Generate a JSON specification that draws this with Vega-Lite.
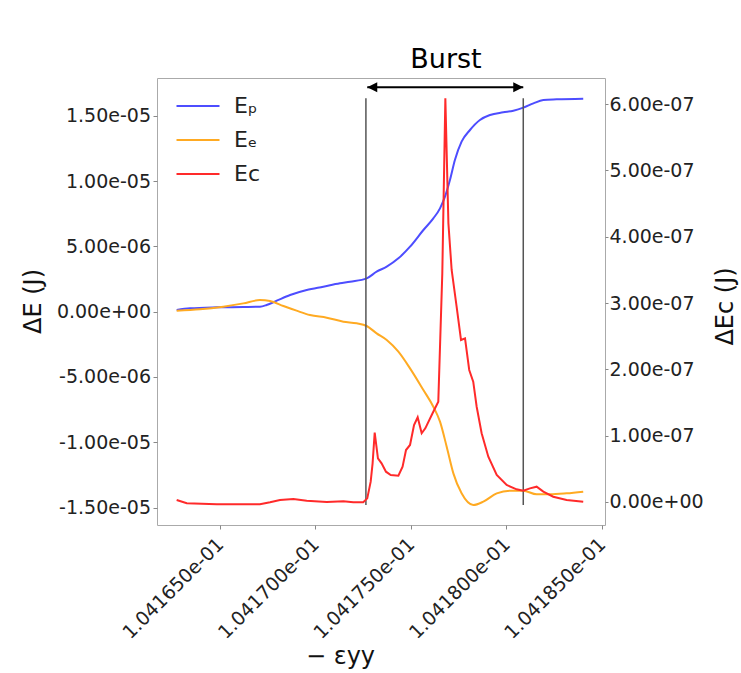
{
  "$schema": "https://vega.github.io/schema/vega-lite/v6.json",
  "width": 448,
  "height": 447,
  "autosize": {"type": "none"},
  "padding": {"left": 157, "top": 78, "right": 136, "bottom": 148},
  "background": "white",
  "config": {
    "view": {"stroke": "#aaaaaa", "strokeWidth": 1},
    "font": "DejaVu Sans",
    "axis": {
      "grid": false,
      "domain": false,
      "labelFont": "DejaVu Sans",
      "titleFont": "DejaVu Sans",
      "labelColor": "#222222",
      "titleColor": "#111111",
      "tickColor": "#888888",
      "labelFlush": false,
      "labelOverlap": false,
      "titleFontWeight": "normal",
      "labelFontSize": 19,
      "titleFontSize": 24
    }
  },
  "datasets": {
    "energy": [
      {"x": 0.10416273, "value": 1.30e-7, "series": "Eₚ"},
      {"x": 0.10416343, "value": 2.57e-7, "series": "Eₚ"},
      {"x": 0.10416483, "value": 3.34e-7, "series": "Eₚ"},
      {"x": 0.10416622, "value": 3.59e-7, "series": "Eₚ"},
      {"x": 0.10416709, "value": 3.85e-7, "series": "Eₚ"},
      {"x": 0.10416744, "value": 5.13e-7, "series": "Eₚ"},
      {"x": 0.10416797, "value": 8.45e-7, "series": "Eₚ"},
      {"x": 0.10416867, "value": 1.279e-6, "series": "Eₚ"},
      {"x": 0.10416954, "value": 1.662e-6, "series": "Eₚ"},
      {"x": 0.10417041, "value": 1.917e-6, "series": "Eₚ"},
      {"x": 0.10417128, "value": 2.173e-6, "series": "Eₚ"},
      {"x": 0.10417181, "value": 2.300e-6, "series": "Eₚ"},
      {"x": 0.10417268, "value": 2.556e-6, "series": "Eₚ"},
      {"x": 0.10417320, "value": 3.066e-6, "series": "Eₚ"},
      {"x": 0.10417373, "value": 3.449e-6, "series": "Eₚ"},
      {"x": 0.10417434, "value": 4.087e-6, "series": "Eₚ"},
      {"x": 0.10417495, "value": 4.981e-6, "series": "Eₚ"},
      {"x": 0.10417565, "value": 6.258e-6, "series": "Eₚ"},
      {"x": 0.10417617, "value": 7.150e-6, "series": "Eₚ"},
      {"x": 0.10417652, "value": 7.918e-6, "series": "Eₚ"},
      {"x": 0.10417678, "value": 8.812e-6, "series": "Eₚ"},
      {"x": 0.10417704, "value": 1.0088e-5, "series": "Eₚ"},
      {"x": 0.10417730, "value": 1.1621e-5, "series": "Eₚ"},
      {"x": 0.10417765, "value": 1.3025e-5, "series": "Eₚ"},
      {"x": 0.10417809, "value": 1.3919e-5, "series": "Eₚ"},
      {"x": 0.10417861, "value": 1.4685e-5, "series": "Eₚ"},
      {"x": 0.10417914, "value": 1.5068e-5, "series": "Eₚ"},
      {"x": 0.10417983, "value": 1.5272e-5, "series": "Eₚ"},
      {"x": 0.10418036, "value": 1.5400e-5, "series": "Eₚ"},
      {"x": 0.10418088, "value": 1.5630e-5, "series": "Eₚ"},
      {"x": 0.10418141, "value": 1.5962e-5, "series": "Eₚ"},
      {"x": 0.10418193, "value": 1.6217e-5, "series": "Eₚ"},
      {"x": 0.10418263, "value": 1.6268e-5, "series": "Eₚ"},
      {"x": 0.10418402, "value": 1.6319e-5, "series": "Eₚ"},
      {"x": 0.10416273, "value": 7.9e-8, "series": "Eₑ"},
      {"x": 0.10416395, "value": 1.81e-7, "series": "Eₑ"},
      {"x": 0.10416517, "value": 3.85e-7, "series": "Eₑ"},
      {"x": 0.10416622, "value": 6.39e-7, "series": "Eₑ"},
      {"x": 0.10416709, "value": 8.96e-7, "series": "Eₑ"},
      {"x": 0.10416762, "value": 8.19e-7, "series": "Eₑ"},
      {"x": 0.10416832, "value": 4.36e-7, "series": "Eₑ"},
      {"x": 0.10416901, "value": 7.9e-8, "series": "Eₑ"},
      {"x": 0.10416971, "value": -2.53e-7, "series": "Eₑ"},
      {"x": 0.10417059, "value": -4.57e-7, "series": "Eₑ"},
      {"x": 0.10417146, "value": -7.64e-7, "series": "Eₑ"},
      {"x": 0.10417216, "value": -8.92e-7, "series": "Eₑ"},
      {"x": 0.10417268, "value": -1.096e-6, "series": "Eₑ"},
      {"x": 0.10417320, "value": -1.658e-6, "series": "Eₑ"},
      {"x": 0.10417373, "value": -2.168e-6, "series": "Eₑ"},
      {"x": 0.10417434, "value": -3.062e-6, "series": "Eₑ"},
      {"x": 0.10417495, "value": -4.339e-6, "series": "Eₑ"},
      {"x": 0.10417565, "value": -5.999e-6, "series": "Eₑ"},
      {"x": 0.10417617, "value": -7.276e-6, "series": "Eₑ"},
      {"x": 0.10417652, "value": -8.425e-6, "series": "Eₑ"},
      {"x": 0.10417687, "value": -1.0340e-5, "series": "Eₑ"},
      {"x": 0.10417722, "value": -1.2383e-5, "series": "Eₑ"},
      {"x": 0.10417765, "value": -1.3915e-5, "series": "Eₑ"},
      {"x": 0.10417826, "value": -1.4809e-5, "series": "Eₑ"},
      {"x": 0.10417879, "value": -1.4552e-5, "series": "Eₑ"},
      {"x": 0.10417949, "value": -1.3915e-5, "series": "Eₑ"},
      {"x": 0.10418018, "value": -1.3710e-5, "series": "Eₑ"},
      {"x": 0.10418088, "value": -1.3710e-5, "series": "Eₑ"},
      {"x": 0.10418158, "value": -1.3991e-5, "series": "Eₑ"},
      {"x": 0.10418228, "value": -1.3991e-5, "series": "Eₑ"},
      {"x": 0.10418315, "value": -1.3915e-5, "series": "Eₑ"},
      {"x": 0.10418402, "value": -1.3787e-5, "series": "Eₑ"}
    ],
    "kinetic": [
      {"x": 0.10416273, "value": 3.0e-9, "series": "Ec"},
      {"x": 0.10416326, "value": -2.0e-9, "series": "Ec"},
      {"x": 0.10416483, "value": -3.5e-9, "series": "Ec"},
      {"x": 0.10416709, "value": -3.5e-9, "series": "Ec"},
      {"x": 0.10416762, "value": -5e-10, "series": "Ec"},
      {"x": 0.10416814, "value": 3.0e-9, "series": "Ec"},
      {"x": 0.10416884, "value": 4.5e-9, "series": "Ec"},
      {"x": 0.10416954, "value": 2.0e-9, "series": "Ec"},
      {"x": 0.10417059, "value": 0, "series": "Ec"},
      {"x": 0.10417146, "value": 1.0e-9, "series": "Ec"},
      {"x": 0.10417198, "value": -5e-10, "series": "Ec"},
      {"x": 0.10417250, "value": -5e-10, "series": "Ec"},
      {"x": 0.10417271, "value": 5.5e-9, "series": "Ec"},
      {"x": 0.10417289, "value": 3.07e-8, "series": "Ec"},
      {"x": 0.10417299, "value": 5.83e-8, "series": "Ec"},
      {"x": 0.10417310, "value": 1.046e-7, "series": "Ec"},
      {"x": 0.10417327, "value": 6.59e-8, "series": "Ec"},
      {"x": 0.10417346, "value": 5.83e-8, "series": "Ec"},
      {"x": 0.10417369, "value": 4.57e-8, "series": "Ec"},
      {"x": 0.10417394, "value": 4.07e-8, "series": "Ec"},
      {"x": 0.10417434, "value": 3.97e-8, "series": "Ec"},
      {"x": 0.10417456, "value": 5.33e-8, "series": "Ec"},
      {"x": 0.10417474, "value": 7.84e-8, "series": "Ec"},
      {"x": 0.10417495, "value": 8.60e-8, "series": "Ec"},
      {"x": 0.10417516, "value": 1.161e-7, "series": "Ec"},
      {"x": 0.10417535, "value": 1.277e-7, "series": "Ec"},
      {"x": 0.10417556, "value": 1.036e-7, "series": "Ec"},
      {"x": 0.10417575, "value": 1.111e-7, "series": "Ec"},
      {"x": 0.10417613, "value": 1.338e-7, "series": "Ec"},
      {"x": 0.10417643, "value": 1.513e-7, "series": "Ec"},
      {"x": 0.10417664, "value": 3.449e-7, "series": "Ec"},
      {"x": 0.10417680, "value": 6.088e-7, "series": "Ec"},
      {"x": 0.10417696, "value": 4.203e-7, "series": "Ec"},
      {"x": 0.10417713, "value": 3.499e-7, "series": "Ec"},
      {"x": 0.10417739, "value": 2.946e-7, "series": "Ec"},
      {"x": 0.10417762, "value": 2.443e-7, "series": "Ec"},
      {"x": 0.10417783, "value": 2.468e-7, "series": "Ec"},
      {"x": 0.10417805, "value": 1.991e-7, "series": "Ec"},
      {"x": 0.10417826, "value": 1.815e-7, "series": "Ec"},
      {"x": 0.10417844, "value": 1.437e-7, "series": "Ec"},
      {"x": 0.10417870, "value": 1.036e-7, "series": "Ec"},
      {"x": 0.10417905, "value": 6.83e-8, "series": "Ec"},
      {"x": 0.10417949, "value": 4.07e-8, "series": "Ec"},
      {"x": 0.10418001, "value": 2.56e-8, "series": "Ec"},
      {"x": 0.10418053, "value": 1.91e-8, "series": "Ec"},
      {"x": 0.10418088, "value": 1.71e-8, "series": "Ec"},
      {"x": 0.10418123, "value": 2.06e-8, "series": "Ec"},
      {"x": 0.10418158, "value": 2.31e-8, "series": "Ec"},
      {"x": 0.10418193, "value": 1.56e-8, "series": "Ec"},
      {"x": 0.10418245, "value": 8.0e-9, "series": "Ec"},
      {"x": 0.10418315, "value": 3.0e-9, "series": "Ec"},
      {"x": 0.10418402, "value": 5e-10, "series": "Ec"}
    ],
    "burst": [
      {"x": 0.10417264, "y": -1.481e-5, "y2": 1.635e-5},
      {"x": 0.10418088, "y": -1.481e-5, "y2": 1.635e-5}
    ],
    "arrow": [
      {"x": 0.10417271, "x2": 0.10418088, "y": 1.719e-5}
    ],
    "heads": [
      {"x": 0.10417271, "y": 1.719e-5, "dir": "left"},
      {"x": 0.10418088, "y": 1.719e-5, "dir": "right"}
    ],
    "label": [
      {"x": 0.10417683, "y": 1.867e-5, "text": "Burst"}
    ]
  },
  "layer": [
    {
      "layer": [
        {
          "data": {"name": "energy"},
          "mark": {"type": "line", "strokeWidth": 2, "interpolate": "monotone"},
          "encoding": {
            "x": {
              "field": "x",
              "type": "quantitative",
              "scale": {"domain": [0.1041617, 0.10418516], "nice": false, "zero": false},
              "axis": {
                "values": [0.104165, 0.10417, 0.104175, 0.10418, 0.104185],
                "format": ".6e",
                "labelExpr": "replace(datum.label, 'e-', 'e-0')",
                "labelAngle": -45,
                "labelAlign": "right",
                "labelBaseline": "middle",
                "tickSize": 4,
                "labelPadding": 12,
                "title": "− εyy",
                "titleX": 183,
                "titleY": 138,
                "titleBaseline": "alphabetic",
                "titleAlign": "center"
              }
            },
            "y": {
              "field": "value",
              "type": "quantitative",
              "scale": {"domain": [-1.634e-5, 1.7903e-5], "nice": false, "zero": false},
              "axis": {
                "values": [-1.5e-5, -1e-5, -5e-6, 0, 5e-6, 1e-5, 1.5e-5],
                "format": ".2e",
                "labelExpr": "replace(replace(replace(datum.label, '−', '-'), 'e-', 'e-0'), 'e+', 'e+0')",
                "tickSize": 4,
                "labelPadding": 2.5,
                "title": "ΔE (J)",
                "titleX": -124,
                "titleY": 223,
                "titleAngle": -90,
                "titleBaseline": "middle",
                "titleAlign": "center"
              }
            },
            "color": {
              "field": "series",
              "type": "nominal",
              "scale": {"domain": ["Eₚ", "Eₑ", "Ec"], "range": ["#4d4dff", "#ffaa22", "#ff2a2a"]},
              "legend": {
                "orient": "none",
                "legendX": 29,
                "legendY": 16,
                "title": null,
                "symbolType": "M-2,0L2,0",
                "symbolSize": 462,
                "symbolStrokeWidth": 2,
                "labelFontSize": 22,
                "labelFont": "DejaVu Sans",
                "labelColor": "#222222",
                "labelOffset": 24,
                "rowPadding": 11,
                "padding": 0
              }
            }
          }
        },
        {
          "data": {"name": "burst"},
          "mark": {"type": "rule", "color": "#555555", "strokeWidth": 1.5},
          "encoding": {
            "x": {"field": "x", "type": "quantitative"},
            "y": {"field": "y", "type": "quantitative"},
            "y2": {"field": "y2"}
          }
        },
        {
          "data": {"name": "arrow"},
          "mark": {"type": "rule", "color": "black", "strokeWidth": 2},
          "encoding": {
            "x": {"field": "x", "type": "quantitative"},
            "x2": {"field": "x2"},
            "y": {"field": "y", "type": "quantitative"}
          }
        },
        {
          "data": {"name": "heads"},
          "mark": {"type": "point", "filled": true, "color": "black", "opacity": 1, "size": 400},
          "encoding": {
            "x": {"field": "x", "type": "quantitative"},
            "y": {"field": "y", "type": "quantitative"},
            "shape": {
              "field": "dir",
              "type": "nominal",
              "scale": {"domain": ["left", "right"], "range": ["M0,0L1,-0.5L1,0.5Z", "M0,0L-1,-0.5L-1,0.5Z"]},
              "legend": null
            }
          }
        },
        {
          "data": {"name": "label"},
          "mark": {"type": "text", "fontSize": 27, "font": "DejaVu Sans", "align": "center", "baseline": "alphabetic", "color": "black"},
          "encoding": {
            "x": {"field": "x", "type": "quantitative"},
            "y": {"field": "y", "type": "quantitative"},
            "text": {"field": "text"}
          }
        }
      ]
    },
    {
      "data": {"name": "kinetic"},
      "mark": {"type": "line", "strokeWidth": 2},
      "encoding": {
        "x": {"field": "x", "type": "quantitative"},
        "y": {
          "field": "value",
          "type": "quantitative",
          "scale": {"domain": [-3.47e-8, 6.395e-7], "nice": false, "zero": false},
          "axis": {
            "orient": "right",
            "values": [0, 1e-7, 2e-7, 3e-7, 4e-7, 5e-7, 6e-7],
            "format": ".2e",
            "labelExpr": "replace(replace(replace(datum.label, '−', '-'), 'e-', 'e-0'), 'e+', 'e+0')",
            "tickSize": 3,
            "labelPadding": 1,
            "title": "ΔEc (J)",
            "titleX": 120,
            "titleY": 228,
            "titleAngle": -90,
            "titleBaseline": "middle",
            "titleAlign": "center"
          }
        },
        "color": {"field": "series", "type": "nominal"}
      }
    }
  ],
  "resolve": {"scale": {"y": "independent"}}
}
